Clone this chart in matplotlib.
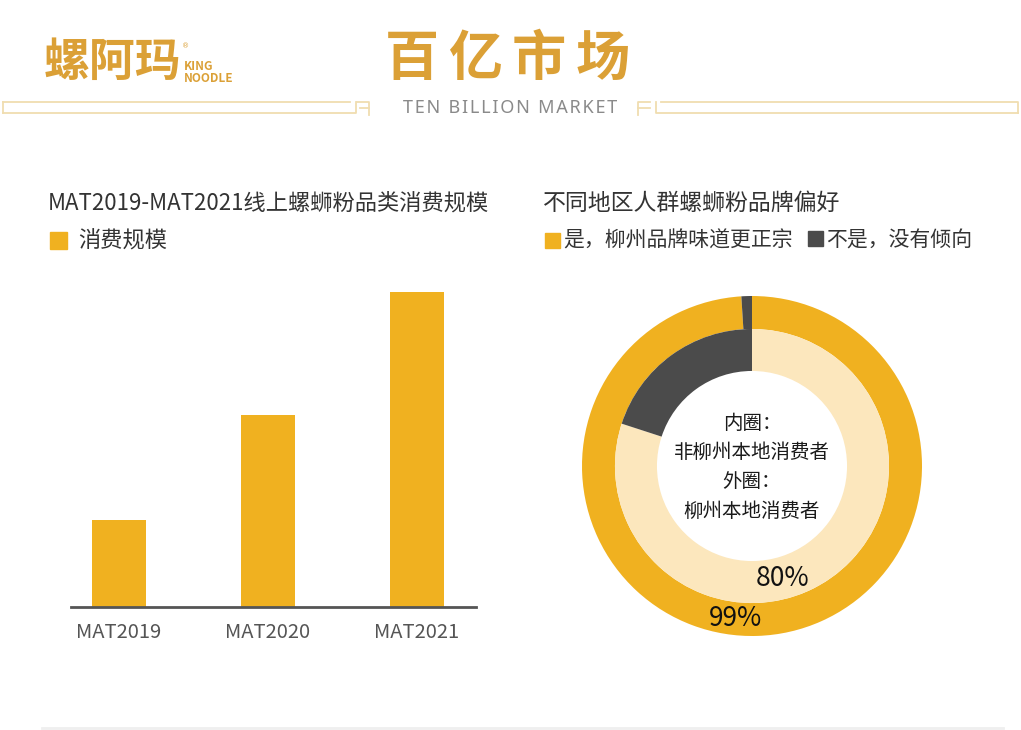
import matplotlib
matplotlib.use("Agg")
import matplotlib.pyplot as plt
from matplotlib.patches import Rectangle

plt.rcParams['font.family'] = ['Noto Sans CJK SC', 'DejaVu Sans']

# 数据
years = ['MAT2019', 'MAT2020', 'MAT2021']
scale = [87, 192, 315]  # 消费规模 (相对值, 按图中柱高估算)

ring_labels = ['是，柳州品牌味道更正宗', '不是，没有倾向']
outer_share = [99, 1]   # 外圈：柳州本地消费者
inner_share = [80, 20]  # 内圈：非柳州本地消费者

yellow = '#F0B120'
dark = '#4B4B4B'
light = '#FCE7BD'
gold = '#DBA036'
deco = '#F0DDB0'

fig = plt.figure(figsize=(10.21, 7.30), dpi=100)
fig.patch.set_facecolor('white')

# 背景层, 用像素坐标画页眉和装饰
bg = fig.add_axes([0, 0, 1, 1], zorder=0)
bg.set_xlim(0, 1021)
bg.set_ylim(730, 0)
bg.axis('off')

bg.text(44, 63, '螺阿玛', fontsize=33, fontweight='bold', color=gold, va='center', ha='left')
bg.text(182, 46, '®', fontsize=5, color=gold, va='center', ha='left', family='DejaVu Sans')
bg.text(184, 66, 'KING', fontsize=8.5, fontweight='bold', color=gold, va='center', ha='left')
bg.text(184, 78, 'NOODLE', fontsize=8.5, fontweight='bold', color=gold, va='center', ha='left')

for i, ch in enumerate('百亿市场'):
    bg.text(412 + i * 63.5, 60, ch, fontsize=39, fontweight='bold', color=gold, ha='center', va='center')

bg.text(510, 108, '\u200a'.join('TEN BILLION MARKET'), fontsize=13, color='#8A8A8A',
        ha='center', va='center', family=['Noto Sans', 'DejaVu Sans'])

# 左右装饰线
lw = 1.3
bg.plot([3, 350], [102, 102], color=deco, lw=lw)
bg.plot([3, 3], [102, 113], color=deco, lw=lw)
bg.plot([3, 356, 356], [113, 113, 102], color=deco, lw=lw)
bg.plot([357, 369, 369], [102, 102, 115], color=deco, lw=lw)
bg.plot([360, 369], [108, 108], color=deco, lw=lw)

bg.plot([650, 638, 638], [102, 102, 115], color=deco, lw=lw)
bg.plot([638, 650], [108, 108], color=deco, lw=lw)
bg.plot([656, 656, 1018], [102, 113, 113], color=deco, lw=lw)
bg.plot([661, 1018, 1018], [102, 102, 113], color=deco, lw=lw)

bg.plot([42, 1003], [728, 728], color='#EFEFEF', lw=2)

# 标题和图例
bg.text(48, 203, 'MAT2019-MAT2021线上螺蛳粉品类消费规模', fontsize=16, color='#333333', va='center')
bg.add_patch(Rectangle((50, 232), 17, 17, color=yellow))
bg.text(78, 241, '消费规模', fontsize=16, color='#333333', va='center')

bg.text(543, 203, '不同地区人群螺蛳粉品牌偏好', fontsize=16.5, color='#333333', va='center')
bg.add_patch(Rectangle((545, 233), 15, 15, color=yellow))
bg.text(563, 241, ring_labels[0], fontsize=15, color='#333333', va='center')
bg.add_patch(Rectangle((808, 231), 15, 15, color=dark))
bg.text(826, 241, ring_labels[1], fontsize=15, color='#333333', va='center')

# 柱状图
ax = fig.add_axes([71 / 1021, 123 / 730, 405 / 1021, 327 / 730], zorder=1)
ax.patch.set_alpha(0)
ax.bar(range(len(years)), scale, width=0.36, color=yellow)
ax.set_xlim(-0.322, 2.396)
ax.set_ylim(0, 327)
ax.set_xticks(range(len(years)))
ax.set_xticklabels(years, fontsize=14.5, color='#555555')
ax.tick_params(axis='x', length=0, pad=11)
ax.set_yticks([])
for s in ['top', 'right', 'left']:
    ax.spines[s].set_visible(False)
ax.spines['bottom'].set_color('#555555')
ax.spines['bottom'].set_linewidth(2)

# 环形图
pax = fig.add_axes([(752 - 170) / 1021, (264 - 170) / 730, 340 / 1021, 340 / 730], zorder=1)
pax.pie(outer_share, radius=1, startangle=90, counterclock=False, colors=[yellow, dark],
        wedgeprops=dict(width=0.194, linewidth=0))
pax.pie(inner_share, radius=0.806, startangle=90, counterclock=False, colors=[light, dark],
        wedgeprops=dict(width=0.247, linewidth=0))
pax.set_xlim(-1, 1)
pax.set_ylim(-1, 1)
pax.set_aspect('equal')

pax.text(0.18, -0.66, f'{inner_share[0]}%', fontsize=19, ha='center', va='center', color='#111111')
pax.text(-0.10, -0.90, f'{outer_share[0]}%', fontsize=19, ha='center', va='center', color='#111111')

center_lines = ['内圈：', '非柳州本地消费者', '外圈：', '柳州本地消费者']
for i, line in enumerate(center_lines):
    pax.text(0, 0.25 - i * 0.172, line, fontsize=14, ha='center', va='center', color='#1A1A1A')

fig.savefig('out.png', dpi=100, facecolor='white')
